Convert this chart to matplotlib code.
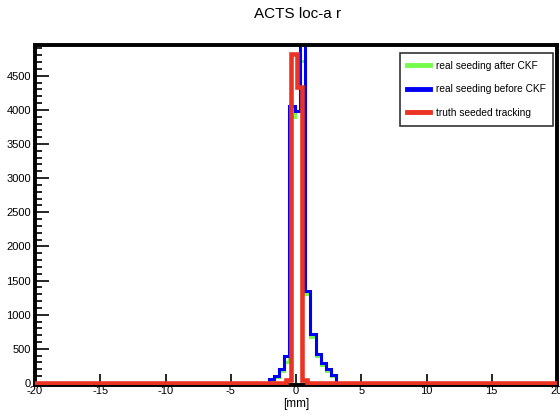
import numpy as np
import matplotlib
matplotlib.use("Agg")
import matplotlib.pyplot as plt
from matplotlib.lines import Line2D
import warnings
warnings.filterwarnings("ignore")

plt.rcParams['font.family'] = ['Liberation Sans Narrow', 'Liberation Sans', 'DejaVu Sans']
plt.rcParams['axes.unicode_minus'] = False

# ---- data ----
title = "ACTS loc-a r"
xlabel = "[mm]"
series_names = ["real seeding after CKF", "real seeding before CKF", "truth seeded tracking"]

# real seeding histograms: bin centres (mm), bin width 0.4 mm
seed_centers = [-1.9, -1.5, -1.1, -0.7, -0.3, 0.1, 0.5, 0.9, 1.3, 1.7, 2.1, 2.5, 2.9]
after_ckf    = [50, 80, 170, 300, 3900, 3990, 4714, 1300, 680, 390, 260, 175, 100]
before_ckf   = [60, 95, 200, 390, 4050, 3990, 5300, 1345, 720, 420, 290, 200, 120]

# truth seeded tracking: bin centres (mm), bin width 0.4 mm
truth_centers = [-0.55, -0.15, 0.25, 0.65]
truth_counts  = [40, 4825, 4330, 40]

bin_width = 0.4
seed_edges = -20.1 + bin_width * np.arange(102)
truth_edges = -20.35 + bin_width * np.arange(103)

def fill(edges, centers, counts):
    vals = np.zeros(len(edges) - 1)
    mids = (edges[:-1] + edges[1:]) / 2
    for c, v in zip(centers, counts):
        vals[int(np.argmin(np.abs(mids - c)))] = v
    return vals

green_vals = fill(seed_edges, seed_centers, after_ckf)
blue_vals = fill(seed_edges, seed_centers, before_ckf)
red_vals = fill(truth_edges, truth_centers, truth_counts)

colors = ['#75fb4c', '#0000f5', '#ea3323']

fig = plt.figure(figsize=(5.6, 4.16), dpi=100)
ax = fig.add_axes([35/560, 31/416, 522/560, 340/416])

ax.stairs(green_vals, seed_edges, color=colors[0], lw=2.2, zorder=2.0, baseline=None)
ax.stairs(blue_vals, seed_edges, color=colors[1], lw=2.2, zorder=2.1, baseline=None)
ax.stairs(red_vals, truth_edges, color=colors[2], lw=3.3, zorder=3.0, baseline=None)

ax.set_xlim(-20, 20)
ax.set_ylim(-30, 4950)
ax.set_xticks(np.arange(-20, 21, 5))
ax.set_yticks(np.arange(0, 4501, 500))
ax.set_yticks(np.arange(0, 4901, 100), minor=True)
ax.tick_params(axis='both', direction='in', width=1.2, labelsize=8, color='black')
ax.tick_params(axis='x', length=8, pad=1)
ax.tick_params(axis='y', which='major', length=10, pad=3)
ax.tick_params(axis='y', which='minor', length=5, width=1.2, direction='in')

for s in ax.spines.values():
    s.set_linewidth(2.8)
    s.set_color('black')

ax.set_xlabel(xlabel, fontsize=8.5, labelpad=1)
fig.text(298/560, 1 - 14/416, title, ha='center', va='center', fontsize=11)

handles = [Line2D([0], [0], color=c, lw=3.5) for c in colors]
leg = ax.legend(handles, series_names, loc='upper right',
                bbox_to_anchor=(553/560, 1 - 53/416), bbox_transform=fig.transFigure,
                fontsize=7.3, frameon=True, fancybox=False, edgecolor='black',
                handlelength=2.3, handletextpad=0.5, labelspacing=1.35,
                borderpad=0.75, borderaxespad=0)
leg.get_frame().set_linewidth(1.2)
leg.set_zorder(5)

fig.savefig("out.png", dpi=100)
